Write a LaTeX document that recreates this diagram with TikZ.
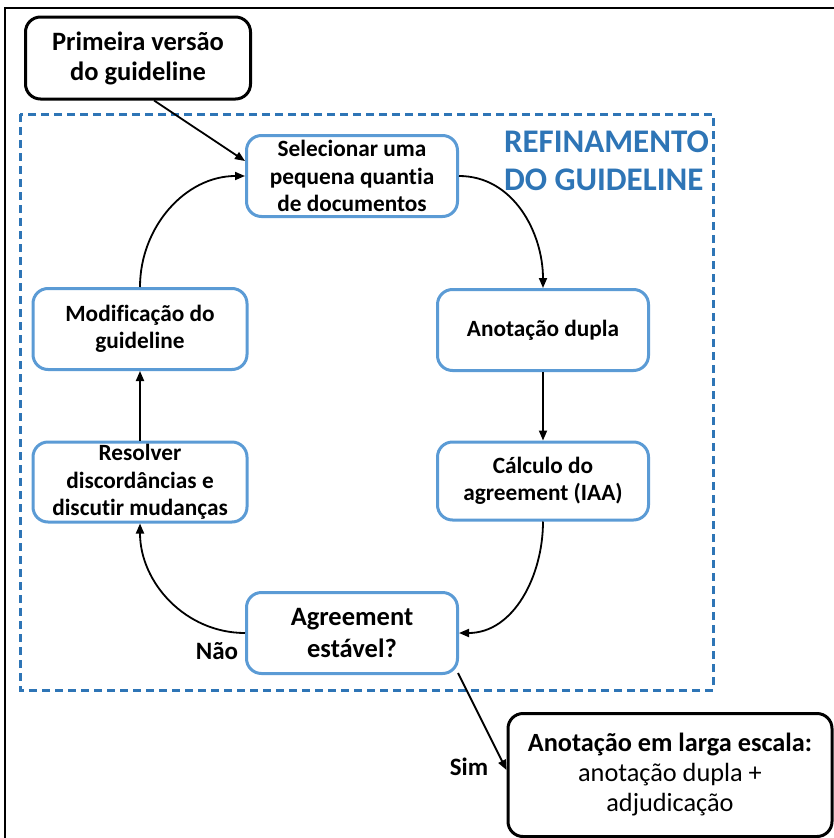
\documentclass[tikz,border=0pt]{standalone}
\usepackage{fontspec}
\setmainfont{Carlito}[RawFeature={-liga;-clig;-calt;-dlig}]
\usetikzlibrary{arrows.meta}
\definecolor{boxblue}{RGB}{91,155,213}
\definecolor{darkblue}{RGB}{46,117,182}
\tikzset{
  x=1pt,y=-1pt,
  bluebox/.style={draw=boxblue,line width=3pt,rounded corners=15pt,fill=white,minimum width=211pt,minimum height=81pt,align=center,font=\fontsize{23.3}{27.5}\selectfont\bfseries,inner sep=2pt},
  blackbox/.style={draw=black,line width=3pt,rounded corners=15pt,fill=white,align=center,inner sep=2pt},
  conn/.style={draw=black,line width=1.8pt,-{Triangle[length=10pt,width=8pt]}},
  lbl/.style={font=\fontsize{25}{30}\selectfont\bfseries}
}
\begin{document}
\begin{tikzpicture}
\useasboundingbox (0,0) rectangle (833,838);
% outer frame (clipped)
\draw[line width=2pt] (5,845) -- (5,8) -- (840,8);
% refinement area
\draw[darkblue,line width=3pt,dash pattern=on 8pt off 5pt] (20,114) rectangle (713,690);
\node[anchor=north east,align=left,text=darkblue,font=\fontsize{33}{38}\selectfont\bfseries,inner sep=0pt] (title) at (709,131) {REFINAMENTO\\DO GUIDELINE};
% nodes
\node[blackbox,minimum width=225pt,minimum height=82pt,font=\fontsize{26.5}{30}\selectfont\bfseries] (first) at (138,58) {Primeira versão\\do guideline};
\node[bluebox] (sel) at (352,176) {Selecionar uma\\pequena quantia\\de documentos};
\node[bluebox] (dupla) at (543,330) {Anotação dupla};
\node[bluebox,minimum height=78pt] (calc) at (543,481) {Cálculo do\\agreement (IAA)};
\node[bluebox,font=\fontsize{26.5}{32}\selectfont\bfseries] (agree) at (352,633) {Agreement\\estável?};
\node[bluebox,minimum width=214pt,minimum height=80pt] (resolver) at (140,482) {Resolver\\discordâncias e\\discutir mudanças};
\node[bluebox,minimum width=214pt] (mod) at (140,329) {Modificação do\\guideline};
\node[blackbox,minimum width=324pt,minimum height=123pt,font=\fontsize{26.3}{30}\selectfont] (larga) at (670,775) {\textbf{Anotação em larga escala:}\\anotação dupla +\\adjudicação};
% connectors
\draw[conn] (first.south west) ++(130,0) coordinate (fs) -- ([yshift=15pt]sel.west);
\draw[conn] (mod.north) to[out=90,in=180] (sel.west);
\draw[conn] (sel.east) to[out=0,in=90] (dupla.north);
\draw[conn] (dupla.south) -- (calc.north);
\draw[conn] (calc.south) to[out=-90,in=0] (agree.east);
\draw[conn] (agree.west) to[out=180,in=-90] (resolver.south);
\draw[conn] (resolver.north) -- (mod.south);
\draw[conn] ([xshift=-1pt,yshift=2pt]agree.south east) -- ([yshift=5pt]larga.west);
% labels
\node[lbl] (nao) at (217,651) {Não};
\node[lbl] (sim) at (469,767) {Sim};
\end{tikzpicture}
\end{document}
